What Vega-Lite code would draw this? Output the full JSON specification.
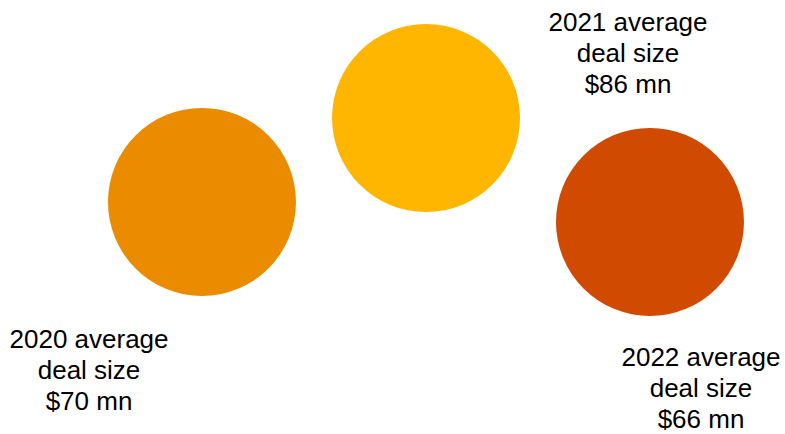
{
  "$schema": "https://vega.github.io/schema/vega-lite/v6.json",
  "width": 785,
  "height": 434,
  "autosize": {"type": "none"},
  "padding": 0,
  "background": "white",
  "config": {"view": {"stroke": null}},
  "data": {
    "values": [
      {"year": "2020", "x": 25.73, "y": 53.46, "lx": 11.34, "ly": 21.66, "label": ["2020 average", "deal size", "$70 mn"]},
      {"year": "2021", "x": 54.27, "y": 72.81, "lx": 80.0, "ly": 94.70, "label": ["2021 average", "deal size", "$86 mn"]},
      {"year": "2022", "x": 82.80, "y": 48.85, "lx": 89.30, "ly": 17.40, "label": ["2022 average", "deal size", "$66 mn"]}
    ]
  },
  "layer": [
    {
      "mark": {"type": "point", "shape": "circle", "filled": true, "opacity": 1, "size": 35344},
      "encoding": {
        "x": {"field": "x", "type": "quantitative", "scale": {"domain": [0, 100]}, "axis": null},
        "y": {"field": "y", "type": "quantitative", "scale": {"domain": [0, 100]}, "axis": null},
        "color": {"field": "year", "type": "nominal", "scale": {"domain": ["2020", "2021", "2022"], "range": ["#EB8C00", "#FFB600", "#D04A02"]}, "legend": null}
      }
    },
    {
      "mark": {"type": "text", "font": "Liberation Sans", "fontSize": 26, "lineHeight": 31, "align": "center", "baseline": "middle", "color": "#000000"},
      "encoding": {
        "x": {"field": "lx", "type": "quantitative", "scale": {"domain": [0, 100]}, "axis": null},
        "y": {"field": "ly", "type": "quantitative", "scale": {"domain": [0, 100]}, "axis": null},
        "text": {"field": "label"}
      }
    }
  ]
}
